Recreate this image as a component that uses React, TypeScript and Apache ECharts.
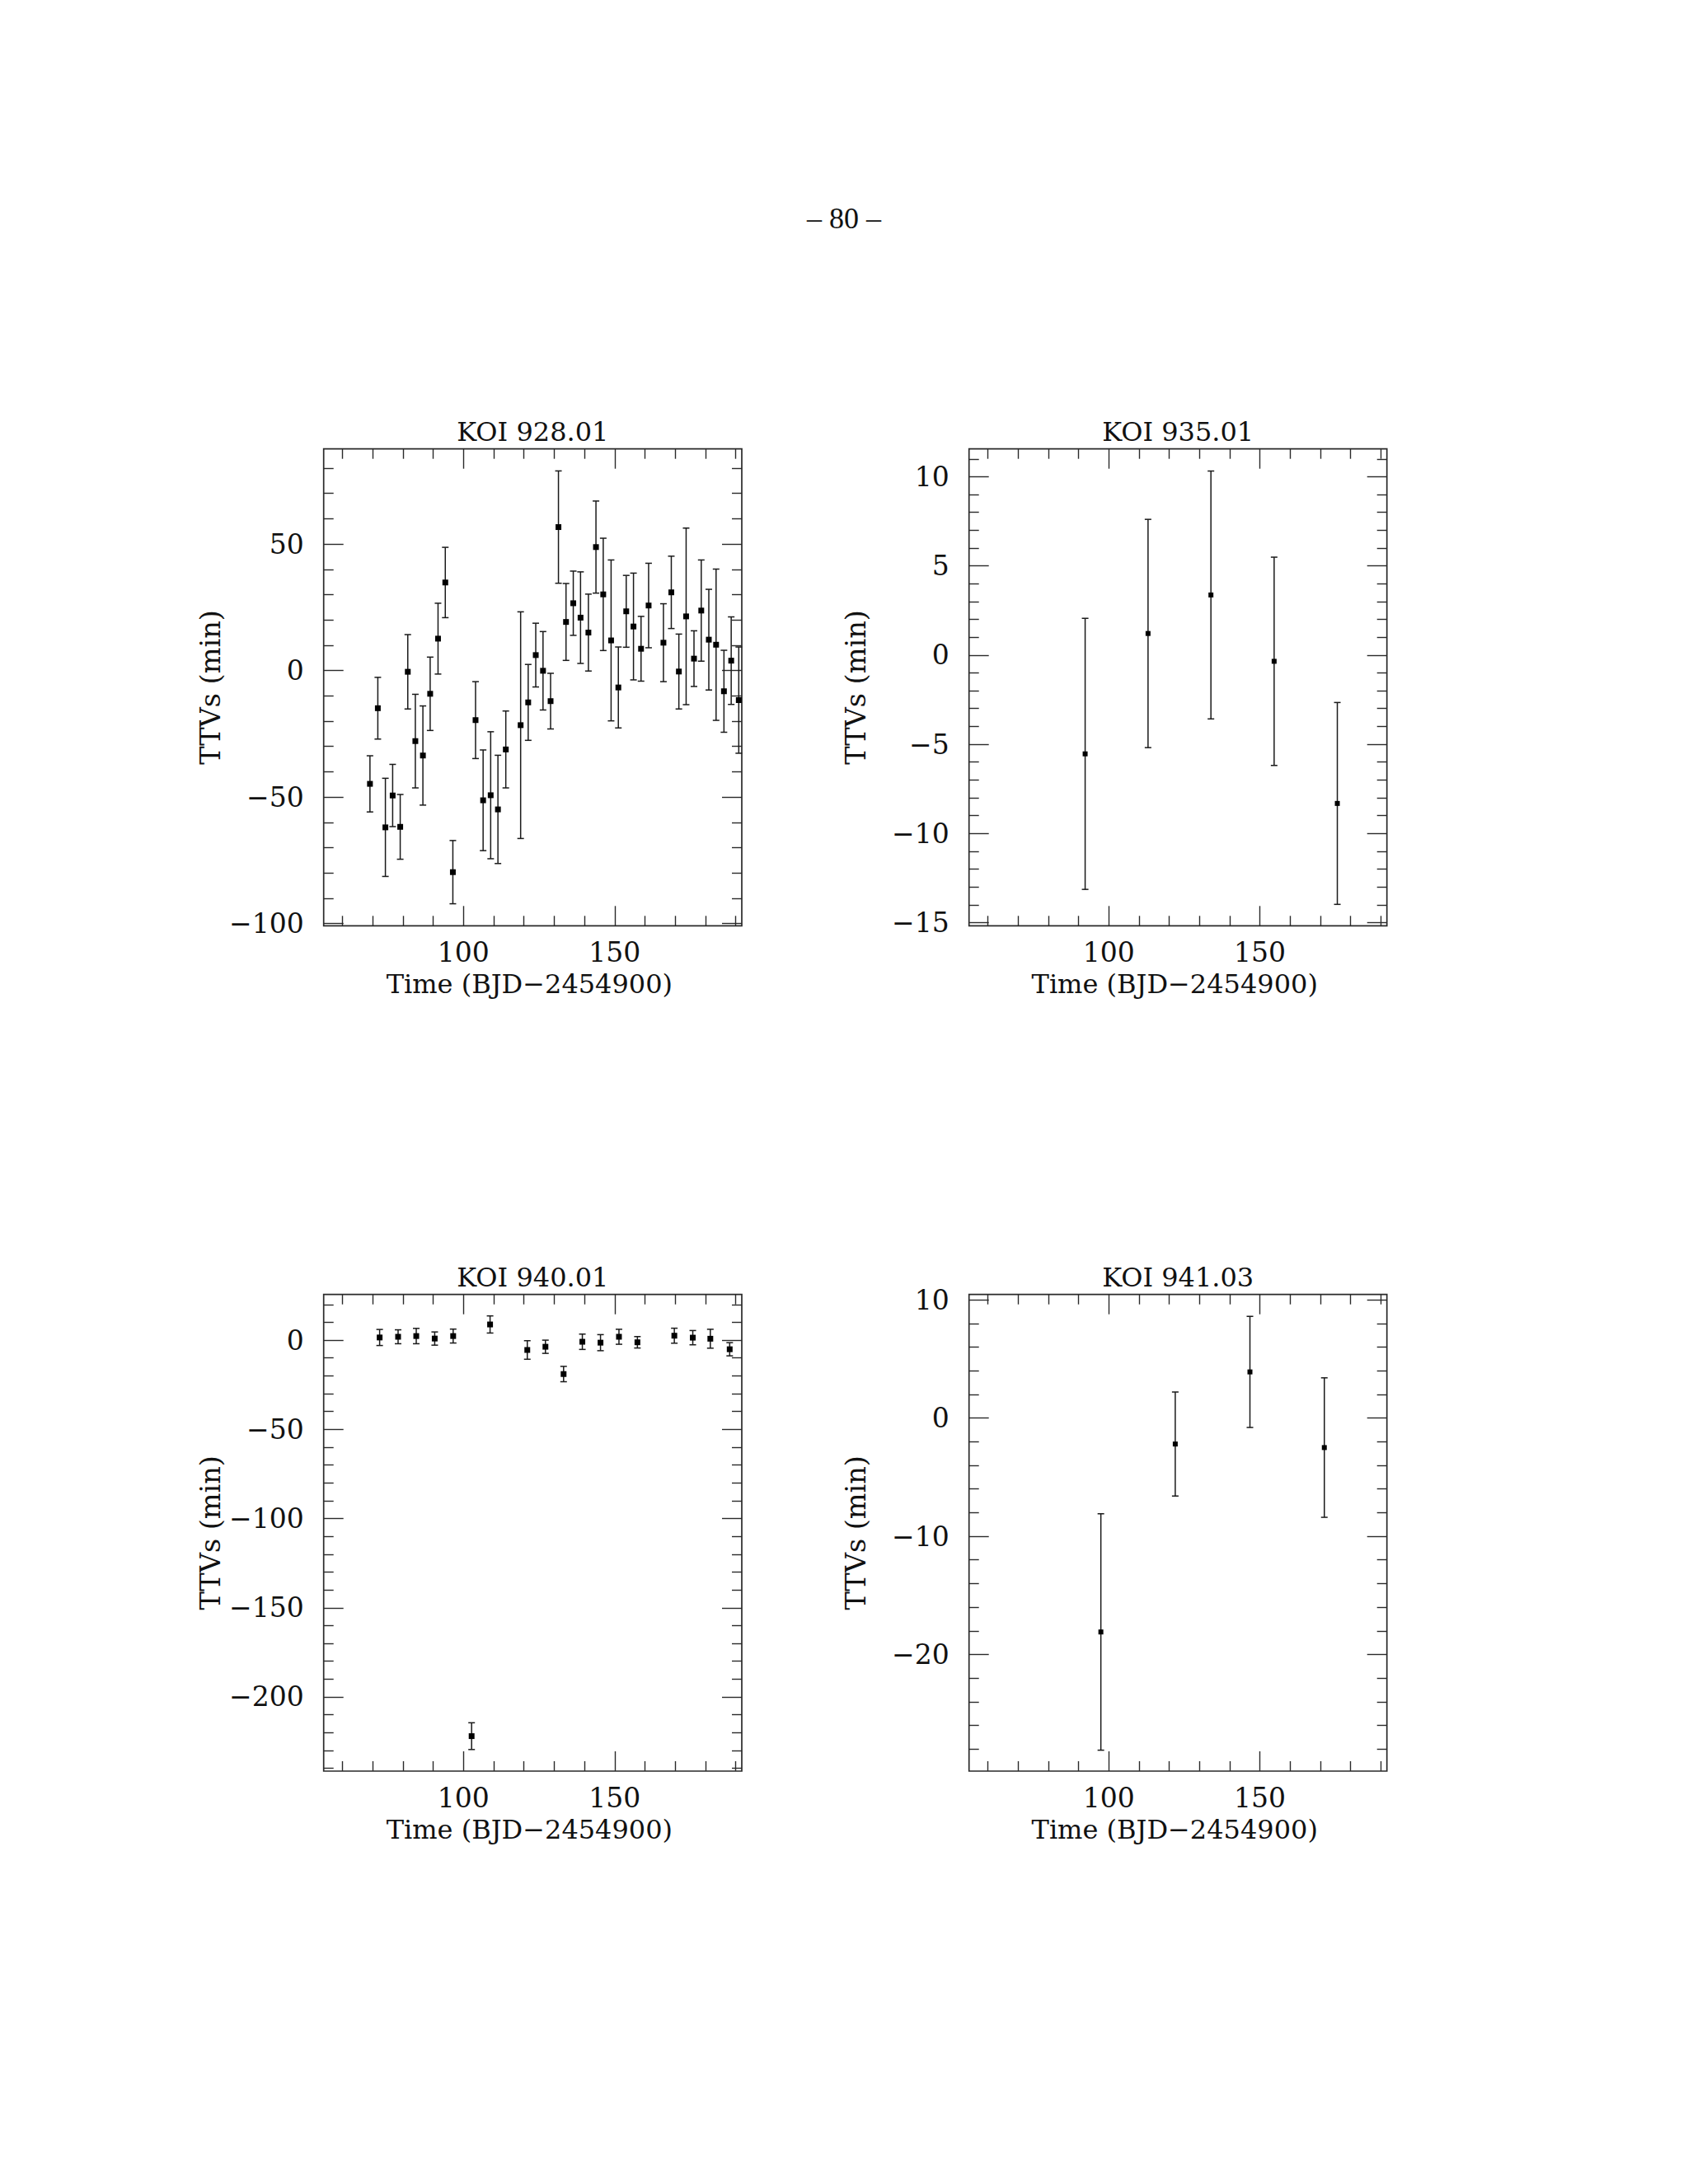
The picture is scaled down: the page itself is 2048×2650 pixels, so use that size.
import React, { useEffect, useRef } from "react";
import * as echarts from "echarts";

// ---------- text ----------
const pageNumber = "– 80 –";
const xAxisTitle = "Time (BJD−2454900)";
const yAxisTitle = "TTVs (min)";

// ---------- shared x axis ----------
const xRange = [53.8, 192];
const xMajorTicks = [100, 150];
const xMinorTicks = [60, 70, 80, 90, 110, 120, 130, 140, 160, 170, 180, 190];

// ---------- KOI 928.01 ----------
const koi92801Title = "KOI 928.01";
const koi92801Time = [69.1, 71.7, 74.2, 76.6, 79.1, 81.6, 84.1, 86.6, 89.0, 91.6, 94.0, 96.5, 104.0, 106.5, 109.0, 111.4, 114.0, 118.9, 121.4, 123.9, 126.3, 128.8, 131.4, 133.9, 136.3, 138.7, 141.3, 143.8, 146.2, 148.8, 151.2, 153.8, 156.2, 158.7, 161.2, 166.1, 168.7, 171.2, 173.6, 176.2, 178.6, 181.1, 183.5, 186.1, 188.5, 191.0];
const koi92801Ttv = [-44.8, -14.9, -62.0, -49.4, -61.8, -0.5, -27.9, -33.6, -9.2, 12.6, 34.8, -79.7, -19.6, -51.3, -49.3, -54.9, -31.2, -21.6, -12.6, 6.1, -0.1, -12.1, 56.7, 19.2, 26.6, 20.9, 15.0, 48.8, 30.1, 11.9, -6.7, 23.4, 17.4, 8.6, 25.7, 11.0, 30.9, -0.4, 21.4, 4.7, 23.7, 12.2, 10.2, -8.2, 3.9, -11.7];
const koi92801Err = [11.1, 12.2, 19.4, 12.3, 12.8, 14.7, 18.5, 19.6, 14.5, 14.0, 13.9, 12.5, 15.2, 19.9, 25.1, 21.4, 15.2, 44.8, 15.0, 12.6, 15.5, 11.0, 22.2, 15.2, 12.7, 18.1, 15.2, 18.2, 22.2, 31.8, 16.0, 14.2, 21.1, 12.8, 16.7, 15.4, 14.3, 14.8, 34.9, 11.0, 20.0, 19.9, 29.9, 16.2, 17.3, 21.0];
const koi92801YRange = [-100.9, 87.6];
const koi92801YMajor = [-100, -50, 0, 50];
const koi92801YMinor = [-90, -80, -70, -60, -40, -30, -20, -10, 10, 20, 30, 40, 60, 70, 80];

// ---------- KOI 935.01 ----------
const koi93501Title = "KOI 935.01";
const koi93501Time = [92.2, 113.0, 133.8, 154.7, 175.6];
const koi93501Ttv = [-5.54, 1.21, 3.37, -0.35, -8.32];
const koi93501Err = [7.6, 6.4, 6.95, 5.84, 5.66];
const koi93501YRange = [-15.18, 11.56];
const koi93501YMajor = [-15, -10, -5, 0, 5, 10];
const koi93501YMinor = [-14, -13, -12, -11, -9, -8, -7, -6, -4, -3, -2, -1, 1, 2, 3, 4, 6, 7, 8, 9, 11];

// ---------- KOI 940.01 ----------
const koi94001Title = "KOI 940.01";
const koi94001Time = [72.3, 78.4, 84.4, 90.5, 96.6, 102.7, 108.8, 121.1, 127.1, 133.1, 139.3, 145.3, 151.4, 157.5, 169.7, 175.8, 181.6, 188.0];
const koi94001Ttv = [1.5, 1.9, 2.3, 0.9, 2.3, -222.0, 8.8, -5.5, -3.7, -19.0, -0.9, -1.4, 1.9, -1.2, 2.5, 1.4, 0.8, -5.1];
const koi94001Err = [4.5, 3.9, 4.3, 3.7, 3.9, 7.5, 4.8, 5.2, 3.7, 4.3, 4.3, 4.5, 4.2, 3.2, 4.2, 4.0, 5.3, 3.7];
const koi94001YRange = [-241.6, 25.6];
const koi94001YMajor = [-200, -150, -100, -50, 0];
const koi94001YMinor = [-240, -230, -220, -210, -190, -180, -170, -160, -140, -130, -120, -110, -90, -80, -70, -60, -40, -30, -20, -10, 10, 20];

// ---------- KOI 941.03 ----------
const koi94103Title = "KOI 941.03";
const koi94103Time = [97.4, 122.0, 146.7, 171.3];
const koi94103Ttv = [-18.1, -2.2, 3.9, -2.5];
const koi94103Err = [10.0, 4.4, 4.7, 5.9];
const koi94103YRange = [-29.87, 10.45];
const koi94103YMajor = [-20, -10, 0, 10];
const koi94103YMinor = [-28, -26, -24, -22, -18, -16, -14, -12, -8, -6, -4, -2, 2, 4, 6, 8];

// ---------- style ----------
const FRAME = "#2a2a2a";
const INK = "#111111";
const FONT = "DejaVu Serif";

const panels = [
  { title: koi92801Title, time: koi92801Time, ttv: koi92801Ttv, err: koi92801Err, yRange: koi92801YRange, yMajor: koi92801YMajor, yMinor: koi92801YMinor, left: 392.7, top: 544.7, width: 507.3, height: 578.6, mark: 7 },
  { title: koi93501Title, time: koi93501Time, ttv: koi93501Ttv, err: koi93501Err, yRange: koi93501YRange, yMajor: koi93501YMajor, yMinor: koi93501YMinor, left: 1175.7, top: 544.7, width: 507, height: 578.6, mark: 6 },
  { title: koi94001Title, time: koi94001Time, ttv: koi94001Ttv, err: koi94001Err, yRange: koi94001YRange, yMajor: koi94001YMajor, yMinor: koi94001YMinor, left: 392.7, top: 1570.7, width: 507.3, height: 578.3, mark: 7 },
  { title: koi94103Title, time: koi94103Time, ttv: koi94103Ttv, err: koi94103Err, yRange: koi94103YRange, yMajor: koi94103YMajor, yMinor: koi94103YMinor, left: 1175.7, top: 1570.7, width: 507, height: 578.3, mark: 6 },
];

const fmt = (v: number) => (v < 0 ? "−" + String(-v) : String(v));

function buildOption() {
  const grid: any[] = [];
  const xAxis: any[] = [];
  const yAxis: any[] = [];
  const series: any[] = [];
  const graphic: any[] = [];

  graphic.push({
    type: "text",
    x: 1024,
    y: 265,
    style: { text: pageNumber, font: `36px "Liberation Serif"`, fill: INK, align: "center", verticalAlign: "middle" },
  });

  panels.forEach((p, g) => {
    grid.push({
      left: p.left,
      top: p.top,
      width: p.width,
      height: p.height,
      show: true,
      borderColor: FRAME,
      borderWidth: 1.7,
      backgroundColor: "transparent",
      containLabel: false,
      outerBoundsMode: "none",
    });

    const mkAxis = (dim: "x" | "y", position: string, ticks: number[], len: number, labels: boolean) => ({
      type: "value",
      gridIndex: g,
      position,
      min: dim === "x" ? xRange[0] : p.yRange[0],
      max: dim === "x" ? xRange[1] : p.yRange[1],
      axisLine: { show: false, onZero: false },
      axisTick: { show: true, inside: true, length: len, customValues: ticks, lineStyle: { color: FRAME, width: 1.4 } },
      axisLabel: labels
        ? {
            show: true,
            customValues: ticks,
            margin: dim === "x" ? 16 : 24,
            fontFamily: FONT,
            fontSize: 33,
            lineHeight: 33,
            color: INK,
            formatter: fmt,
          }
        : { show: false },
      splitLine: { show: false },
      minorTick: { show: false },
      minorSplitLine: { show: false },
    });

    const xBase = xAxis.length;
    xAxis.push(
      mkAxis("x", "bottom", xMajorTicks, 24, true),
      mkAxis("x", "bottom", xMinorTicks, 12, false),
      mkAxis("x", "top", xMajorTicks, 24, false),
      mkAxis("x", "top", xMinorTicks, 12, false)
    );
    const yBase = yAxis.length;
    yAxis.push(
      mkAxis("y", "left", p.yMajor, 24, true),
      mkAxis("y", "left", p.yMinor, 12, false),
      mkAxis("y", "right", p.yMajor, 24, false),
      mkAxis("y", "right", p.yMinor, 12, false)
    );

    const data = p.time.map((t, i) => [t, p.ttv[i], p.err[i]]);
    const size = p.mark;
    series.push({
      type: "custom",
      xAxisIndex: xBase,
      yAxisIndex: yBase,
      data,
      encode: { x: 0, y: 1 },
      clip: false,
      renderItem: (_params: any, api: any) => {
        const x = api.value(0);
        const y = api.value(1);
        const e = api.value(2);
        const c = api.coord([x, y]);
        const t = api.coord([x, y + e]);
        const b = api.coord([x, y - e]);
        const hw = 4;
        const ls = { stroke: "#1a1a1a", lineWidth: 1.5 };
        return {
          type: "group",
          children: [
            { type: "line", shape: { x1: t[0], y1: t[1], x2: b[0], y2: b[1] }, style: ls },
            { type: "line", shape: { x1: t[0] - hw, y1: t[1], x2: t[0] + hw, y2: t[1] }, style: ls },
            { type: "line", shape: { x1: b[0] - hw, y1: b[1], x2: b[0] + hw, y2: b[1] }, style: ls },
            { type: "rect", shape: { x: c[0] - size / 2, y: c[1] - size / 2, width: size, height: size }, style: { fill: "#000000" } },
          ],
        };
      },
    });

    const cx = p.left + p.width / 2;
    const cy = p.top + p.height / 2;
    graphic.push(
      {
        type: "text",
        x: cx,
        y: p.top - 21,
        style: { text: p.title, font: `32px "${FONT}"`, fill: INK, align: "center", verticalAlign: "middle" },
      },
      {
        type: "text",
        x: cx - 4,
        y: p.top + p.height + 71,
        style: { text: xAxisTitle, font: `32px "${FONT}"`, fill: INK, align: "center", verticalAlign: "middle", lineHeight: 32 },
      },
      {
        type: "text",
        x: p.left - 137,
        y: cy,
        rotation: Math.PI / 2,
        style: { text: yAxisTitle, font: `33.5px "${FONT}"`, fill: INK, align: "center", verticalAlign: "middle", lineHeight: 33.5 },
      }
    );
  });

  return {
    animation: false,
    backgroundColor: "#ffffff",
    grid,
    xAxis,
    yAxis,
    series,
    graphic,
  };
}

export default function App() {
  const ref = useRef<HTMLDivElement | null>(null);
  useEffect(() => {
    if (!ref.current) return;
    const chart = echarts.init(ref.current, undefined, { renderer: "svg", width: 2048, height: 2650 });
    chart.setOption(buildOption() as any);
    return () => chart.dispose();
  }, []);
  return <div ref={ref} style={{ position: "absolute", left: 0, top: 0, width: 2048, height: 2650, background: "#fff" }} />;
}
